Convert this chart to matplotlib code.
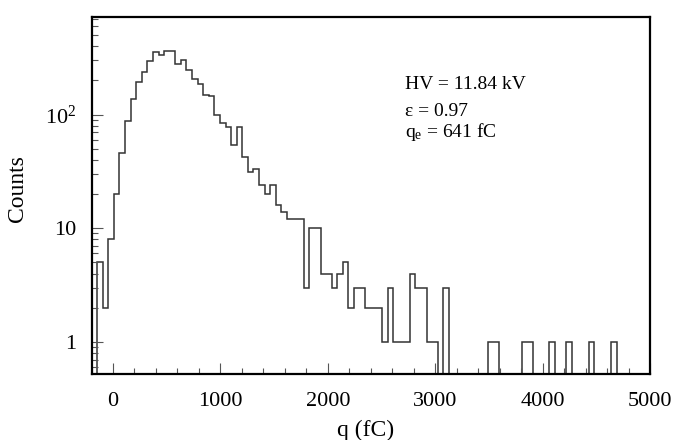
import matplotlib.pyplot as plt
import numpy as np
from matplotlib.ticker import MultipleLocator

plt.rcParams['font.family'] = ['Liberation Serif', 'DejaVu Serif']
plt.rcParams['mathtext.fontset'] = 'custom'
plt.rcParams['mathtext.rm'] = 'Liberation Serif'
plt.rcParams['mathtext.it'] = 'Liberation Serif:italic'

# histogram: 100 bins from -200 to 5000 fC
q_min, q_max, n_bins = -200, 5000, 100
counts = [
    0, 5, 2, 8, 20, 46, 87, 137, 192, 235,
    298, 358, 335, 362, 365, 279, 303, 249, 206, 186,
    150, 147, 100, 85, 78, 54, 78, 42, 31, 33,
    24, 20, 24, 16, 14, 12, 12, 12, 3, 10,
    10, 4, 4, 3, 4, 5, 2, 3, 3, 2,
    2, 2, 1, 3, 1, 1, 1, 4, 3, 3,
    1, 1, 0, 3, 0, 0, 0, 0, 0, 0,
    0, 1, 1, 0, 0, 0, 0, 1, 1, 0,
    0, 0, 1, 0, 0, 1, 0, 0, 0, 1,
    0, 0, 0, 1, 0, 0, 0, 0, 0, 0,
]
x_ticks = [0, 1000, 2000, 3000, 4000, 5000]
y_ticks = [1, 10, 100]
y_tick_labels = ['1', '10', r'$\mathregular{10^2}$']
info_lines = ['HV = 11.84 kV', '\u03b5 = 0.97', r'q$_\mathregular{e}$ = 641 fC']

edges = np.linspace(q_min, q_max, n_bins + 1)
# empty bins drawn below the visible range (log axis)
y = np.clip(np.array(counts, dtype=float), 1e-2, None)

fig = plt.figure(figsize=(6.75, 4.4), dpi=100)
ax = fig.add_axes([0.1356, 0.151, 0.8274, 0.810])

ax.stairs(y, edges, baseline=None, color='#333333', lw=1.1)

ax.set_yscale('log')
ax.set_xlim(q_min, q_max)
ax.set_ylim(0.527, 720)
ax.set_xticks(x_ticks)
ax.xaxis.set_minor_locator(MultipleLocator(200))
ax.set_yticks(y_ticks)
ax.set_yticklabels(y_tick_labels)

ax.tick_params(which='both', direction='in', top=False, right=False,
               color='#555555', width=0.8, labelsize=16)
ax.tick_params(which='major', length=8)
ax.tick_params(which='minor', length=4)
ax.tick_params(axis='y', pad=11)
ax.tick_params(axis='x', pad=13)

for s in ax.spines.values():
    s.set_linewidth(1.6)

ax.set_ylabel('Counts', fontsize=17)
ax.yaxis.set_label_coords(-0.114, 0.52)
ax.set_xlabel('q (fC)', fontsize=17)
ax.xaxis.set_label_coords(0.49, -0.13)

for line, yb in zip(info_lines, [0.797, 0.7364, 0.688]):
    fig.text(0.6, yb, line, fontsize=14, va='baseline', ha='left')

fig.savefig('out.png', dpi=100)
